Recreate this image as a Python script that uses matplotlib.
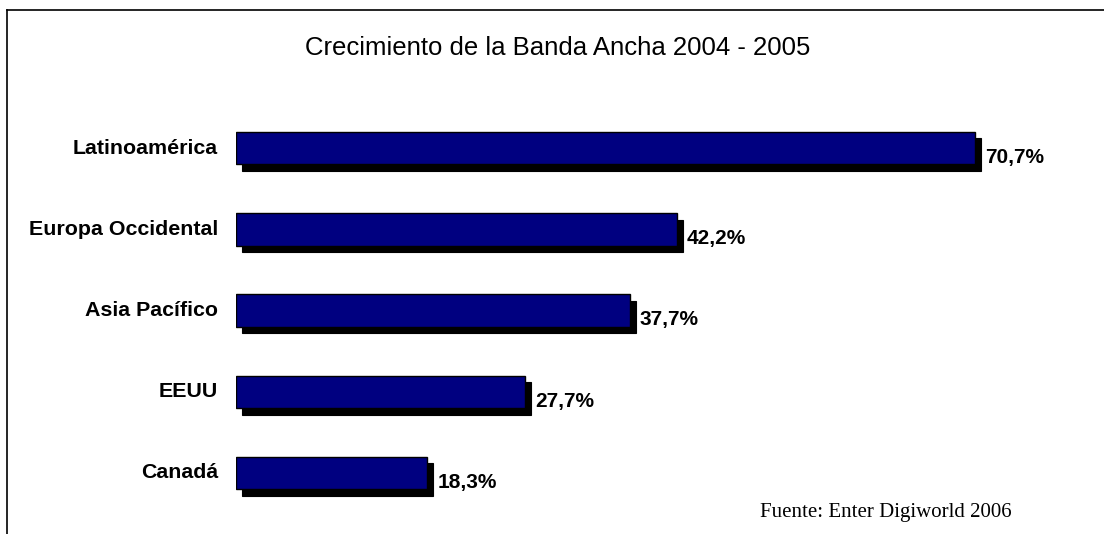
import matplotlib

matplotlib.use("Agg")
import matplotlib.pyplot as plt
import matplotlib.transforms as mtransforms
from matplotlib.lines import Line2D

regions = ["Latinoamérica", "Europa Occidental", "Asia Pacífico", "EEUU", "Canadá"]
growth = [70.7, 42.2, 37.7, 27.7, 18.3]
value_labels = ["70,7%", "42,2%", "37,7%", "27,7%", "18,3%"]

title = "Crecimiento de la Banda Ancha 2004 - 2005"
source = "Fuente: Enter Digiworld 2006"

W, H, DPI = 1104, 534, 100
fig = plt.figure(figsize=(W / DPI, H / DPI), dpi=DPI)
fig.patch.set_facecolor("white")

# axes starts where the bars start, data scale ~10.45 px per percent
ax_left = 236 / W
ax = fig.add_axes([ax_left, 0.0, 1.0 - ax_left, 1.0])
ax.set_xlim(0, (W - 236) / 10.45)
ax.set_ylim((H - 148) / 81.25, -148 / 81.25)
ax.axis("off")

ypos = list(range(len(regions)))
shadow = ax.transData + mtransforms.ScaledTranslation(6 / DPI, -6.5 / DPI, fig.dpi_scale_trans)
ax.barh(ypos, growth, height=0.40, color="black", edgecolor="black",
        linewidth=0.8, transform=shadow)
ax.barh(ypos, growth, height=0.40, color="#000080", edgecolor="black", linewidth=1.0)

for y, v, lab, reg in zip(ypos, growth, value_labels, regions):
    ax.annotate(lab, xy=(v, y + 0.115), xytext=(7.2, 0), textcoords="offset points",
                ha="left", va="center", fontsize=15, fontweight="bold",
                family="Liberation Sans")
    ax.annotate(reg, xy=(0, y), xytext=(-13, 0), textcoords="offset points",
                ha="right", va="center", fontsize=15.4, fontweight="bold",
                family="Liberation Sans")

fig.text(558 / W, 1 - 48.5 / H, title, ha="center", va="center",
         fontsize=18.5, family="Liberation Sans")
fig.text(1012 / W, 1 - 517 / H, source, ha="right", va="baseline",
         fontsize=15, family="Liberation Serif")

# frame lines: top and left only
fig.add_artist(Line2D([7 / W, 1.0], [1 - 10 / H, 1 - 10 / H],
                      color="black", linewidth=1.2, transform=fig.transFigure))
fig.add_artist(Line2D([7 / W, 7 / W], [1 - 10 / H, 0.0],
                      color="black", linewidth=1.2, transform=fig.transFigure))

fig.savefig("out.png", dpi=DPI)
plt.close(fig)
